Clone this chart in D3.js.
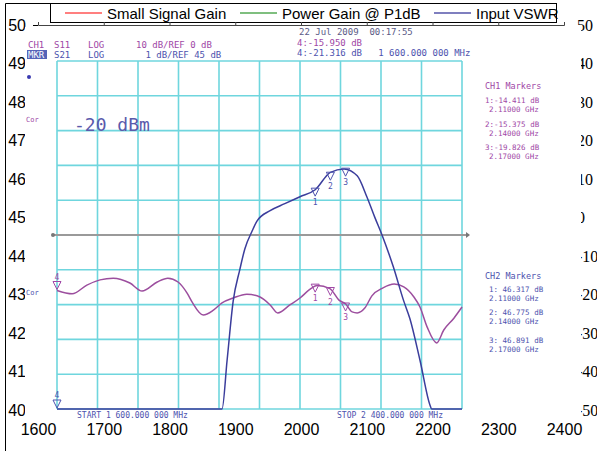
<!DOCTYPE html>
<html>
<head>
<meta charset="utf-8">
<script src="https://cdn.jsdelivr.net/npm/d3@7"></script>
<style>
  body { margin: 0; background: #fff; }
  text { font-family: "Liberation Sans", Arial, sans-serif; }
  .scr text { font-family: "DejaVu Sans Mono", monospace; }
</style>
</head>
<body>
<svg id="chart"></svg>
<script>
// outer chart
const xTicks = [1600, 1700, 1800, 1900, 2000, 2100, 2200, 2300, 2400];
const leftTicks = [40, 41, 42, 43, 44, 45, 46, 47, 48, 49, 50];
const rightTicks = [-50, -40, -30, -20, -10, 0, 10, 20, 30, 40, 50];
const seriesNames = ["Small Signal Gain", "Power Gain @ P1dB", "Input VSWR"];
const seriesColors = ["#ff0000", "#008000", "#000080"];

// analyzer screen : CH2 = S21 (dB), CH1 = S11 (dB)
const s21Freq = [1600, 1926, 1936, 1948, 1961, 1971, 1985, 1995, 2021, 2050, 2080, 2110, 2140, 2167, 2193, 2212, 2228, 2242, 2264, 2285, 2297, 2317, 2337, 2340, 2400];
const s21Gain = [40.0, 40.0, 41.4, 43.1, 44.0, 44.6, 45.1, 45.4, 45.7, 45.9, 46.1, 46.3, 46.8, 46.9, 46.7, 46.1, 45.5, 45.0, 44.1, 43.1, 42.6, 41.4, 40.1, 40.0, 40.0];
const s11Freq = [1600, 1630, 1659, 1685, 1711, 1744, 1768, 1798, 1819, 1839, 1857, 1867, 1889, 1909, 1926, 1948, 1975, 2001, 2021, 2036, 2060, 2080, 2098, 2114, 2139, 2157, 2170, 2183, 2193, 2208, 2222, 2244, 2266, 2285, 2305, 2317, 2331, 2350, 2364, 2384, 2400];
const s11Loss = [-15.95, -16.9, -14.4, -12.9, -12.4, -13.8, -16.1, -13.5, -12.4, -13.5, -16.7, -19.3, -23.0, -21.6, -19.5, -18.1, -17.0, -17.8, -20.1, -22.4, -20.1, -18.1, -15.8, -14.5, -15.4, -18.7, -19.8, -22.1, -22.4, -21.0, -17.5, -15.2, -14.1, -14.9, -17.8, -20.7, -26.4, -31.0, -27.3, -23.9, -20.7];
const markerFreq = [2110, 2140, 2170];
const ch1MarkerVals = [-14.411, -15.375, -19.826];
const ch2MarkerVals = [46.317, 46.775, 46.891];
const marker4Freq = 1600;
const marker4Ch1 = -15.950;
const marker4Ch2 = -21.316;

const W = 597, H = 451;
const svg = d3.select("#chart").attr("width", W).attr("height", H);

const x = d3.scaleLinear().domain([1600, 2400]).range([38, 564]);
const yL = d3.scaleLinear().domain([40, 50]).range([410, 25]);
const yR = d3.scaleLinear().domain([-50, 50]).range([410, 25]);

// cadre
svg.append("path").attr("d", "M5.5,451V3.5H556").attr("fill", "none").attr("stroke", "#000");

// legende
svg.append("rect").attr("x", 50.5).attr("y", 3.5).attr("width", 506).attr("height", 19)
  .attr("fill", "#fff").attr("stroke", "#000");
const legX = [65, 240, 434];
seriesNames.forEach((name, i) => {
  svg.append("line").attr("x1", legX[i]).attr("x2", legX[i] + 37).attr("y1", 13).attr("y2", 13)
    .attr("stroke", seriesColors[i]).attr("stroke-width", 1.2);
  svg.append("text").attr("x", legX[i] + 42).attr("y", 18.5).attr("font-size", 15).text(name);
});

// axes
const gTop = svg.append("g").attr("transform", "translate(0,25)")
  .call(d3.axisTop(x).tickValues(xTicks).tickSize(3).tickFormat(""));
gTop.selectAll("path,line").attr("stroke", "#444");

const gLeft = svg.append("g").attr("transform", "translate(38,0)")
  .call(d3.axisLeft(yL).tickValues(leftTicks).tickSize(5).tickFormat(d3.format("d")));
gLeft.select(".domain").remove();
gLeft.selectAll("text").attr("font-size", 16).attr("font-family", "Liberation Sans, Arial").attr("fill", "#000").attr("x", -12);

const gBottom = svg.append("g").attr("transform", "translate(0,410)")
  .call(d3.axisBottom(x).tickValues(xTicks).tickSize(0).tickFormat(d3.format("d")));
gBottom.select(".domain").remove();
gBottom.selectAll("text").attr("font-size", 16).attr("font-family", "Liberation Sans, Arial").attr("fill", "#000").attr("y", 14);

svg.append("g").selectAll("text").data(rightTicks).join("text")
  .attr("x", 577).attr("y", d => yR(d)).attr("dy", "0.35em")
  .attr("font-size", 16).style("font-family", "Liberation Serif, Times New Roman, serif")
  .text(d => d);

// capture de l'analyseur
const scr = svg.append("g").attr("class", "scr");
scr.append("rect").attr("x", 25).attr("y", 27).attr("width", 556).attr("height", 393).attr("fill", "#fff");

const fx = d3.scaleLinear().domain([1600, 2400]).range([57, 462]);
const y21 = d3.scaleLinear().domain([40, 50]).range([409, 61]).clamp(true);
const y11 = d3.scaleLinear().domain([-50, 50]).range([409, 61]).clamp(true);

const grid = scr.append("g").attr("stroke", "#6fd6de").attr("stroke-width", 1.6);
grid.selectAll(".v").data(d3.range(1600, 2401, 80)).join("line")
  .attr("x1", d => fx(d)).attr("x2", d => fx(d)).attr("y1", 61).attr("y2", 409);
grid.selectAll(".h").data(d3.range(40, 50.01, 1)).join("line")
  .attr("x1", 57).attr("x2", 462).attr("y1", d => y21(d)).attr("y2", d => y21(d));

// ligne de reference
scr.append("line").attr("x1", 53).attr("x2", 466).attr("y1", y21(45)).attr("y2", y21(45))
  .attr("stroke", "#9a9a9a").attr("stroke-width", 2);
scr.append("circle").attr("cx", 53).attr("cy", y21(45)).attr("r", 2).attr("fill", "#777");
scr.append("path").attr("d", `M466,${y21(45) - 3}L470,${y21(45)}L466,${y21(45) + 3}Z`).attr("fill", "#777");

const purple = "#a047a6", blue = "#4d52ae";

scr.append("path").datum(d3.zip(s11Freq, s11Loss))
  .attr("d", d3.line().x(d => fx(d[0])).y(d => y11(d[1])).curve(d3.curveMonotoneX))
  .attr("fill", "none").attr("stroke", "#9c4e9e").attr("stroke-width", 1.5);
scr.append("path").datum(d3.zip(s21Freq, s21Gain))
  .attr("d", d3.line().x(d => fx(d[0])).y(d => y21(d[1])).curve(d3.curveMonotoneX))
  .attr("fill", "none").attr("stroke", "#3b3d9c").attr("stroke-width", 1.5);

function marker(px, py, label, color, above) {
  scr.append("path").attr("d", `M${px - 4},${py - 9}L${px + 4},${py - 9}L${px},${py - 1}Z`)
    .attr("fill", "none").attr("stroke", color).attr("stroke-width", 1);
  scr.append("text").attr("x", px).attr("y", above ? py - 11 : py + 8).attr("text-anchor", "middle")
    .attr("font-size", 8).attr("fill", color).text(label);
}
markerFreq.forEach((f, i) => {
  marker(fx(f), y21(ch2MarkerVals[i]) + 8, i + 1, blue, false);
  marker(fx(f), y11(ch1MarkerVals[i]) + 8, i + 1, purple, false);
});
marker(fx(marker4Freq), y11(marker4Ch1), 4, purple, true);
marker(fx(marker4Freq), y21(marker4Ch2), 4, blue, true);

// textes de l'ecran
const fmt = d3.format(".3f");
const ghz = f => (f / 1000).toFixed(5) + " GHz";
function t(xp, yp, s, color, size) {
  return scr.append("text").attr("x", xp).attr("y", yp).attr("font-size", size || 9)
    .attr("fill", color).style("white-space", "pre").text(s);
}
t(28, 48, "CH1", purple); t(54, 48, "S11", purple); t(88, 48, "LOG", purple);
t(136, 48, "10 dB/REF 0 dB", purple);
scr.append("rect").attr("x", 27).attr("y", 50).attr("width", 20).attr("height", 9).attr("fill", "#5564b8");
t(28, 58, "MKR", "#fff"); t(54, 58, "S21", blue); t(88, 58, "LOG", blue);
t(140, 58, " 1 dB/REF 45 dB", blue);
t(299, 35, "22 Jul 2009  00:17:55", "#5a5a86");
t(297, 46, "4:-" + fmt(-marker4Ch1) + " dB", purple);
t(297, 56, "4:-" + fmt(-marker4Ch2) + " dB   1 600.000 000 MHz", blue);
scr.append("circle").attr("cx", 29).attr("cy", 77).attr("r", 2).attr("fill", "#3a3ab0");
t(26, 122, "Cor", purple, 7);
t(26, 295, "Cor", blue, 7);
t(74, 131, "-20 dBm", "#5a5aac", 18);

t(485, 89, "CH1 Markers", purple, 8.5);
markerFreq.forEach((f, i) => {
  const yy = [103, 127, 150][i];
  t(485, yy, (i + 1) + ":-" + fmt(-ch1MarkerVals[i]) + " dB", purple, 7.5);
  t(489, yy + 8.5, ghz(f), purple, 7.5);
});
t(485, 279, "CH2 Markers", blue, 8.5);
markerFreq.forEach((f, i) => {
  const yy = [292, 315, 343][i];
  t(489, yy, (i + 1) + ": " + fmt(ch2MarkerVals[i]) + " dB", blue, 7.5);
  t(489, yy + 8.5, ghz(f), blue, 7.5);
});
t(77, 418, "START 1 600.000 000 MHz", blue, 8);
t(337, 418, "STOP 2 400.000 000 MHz", blue, 8);
</script>
</body>
</html>
